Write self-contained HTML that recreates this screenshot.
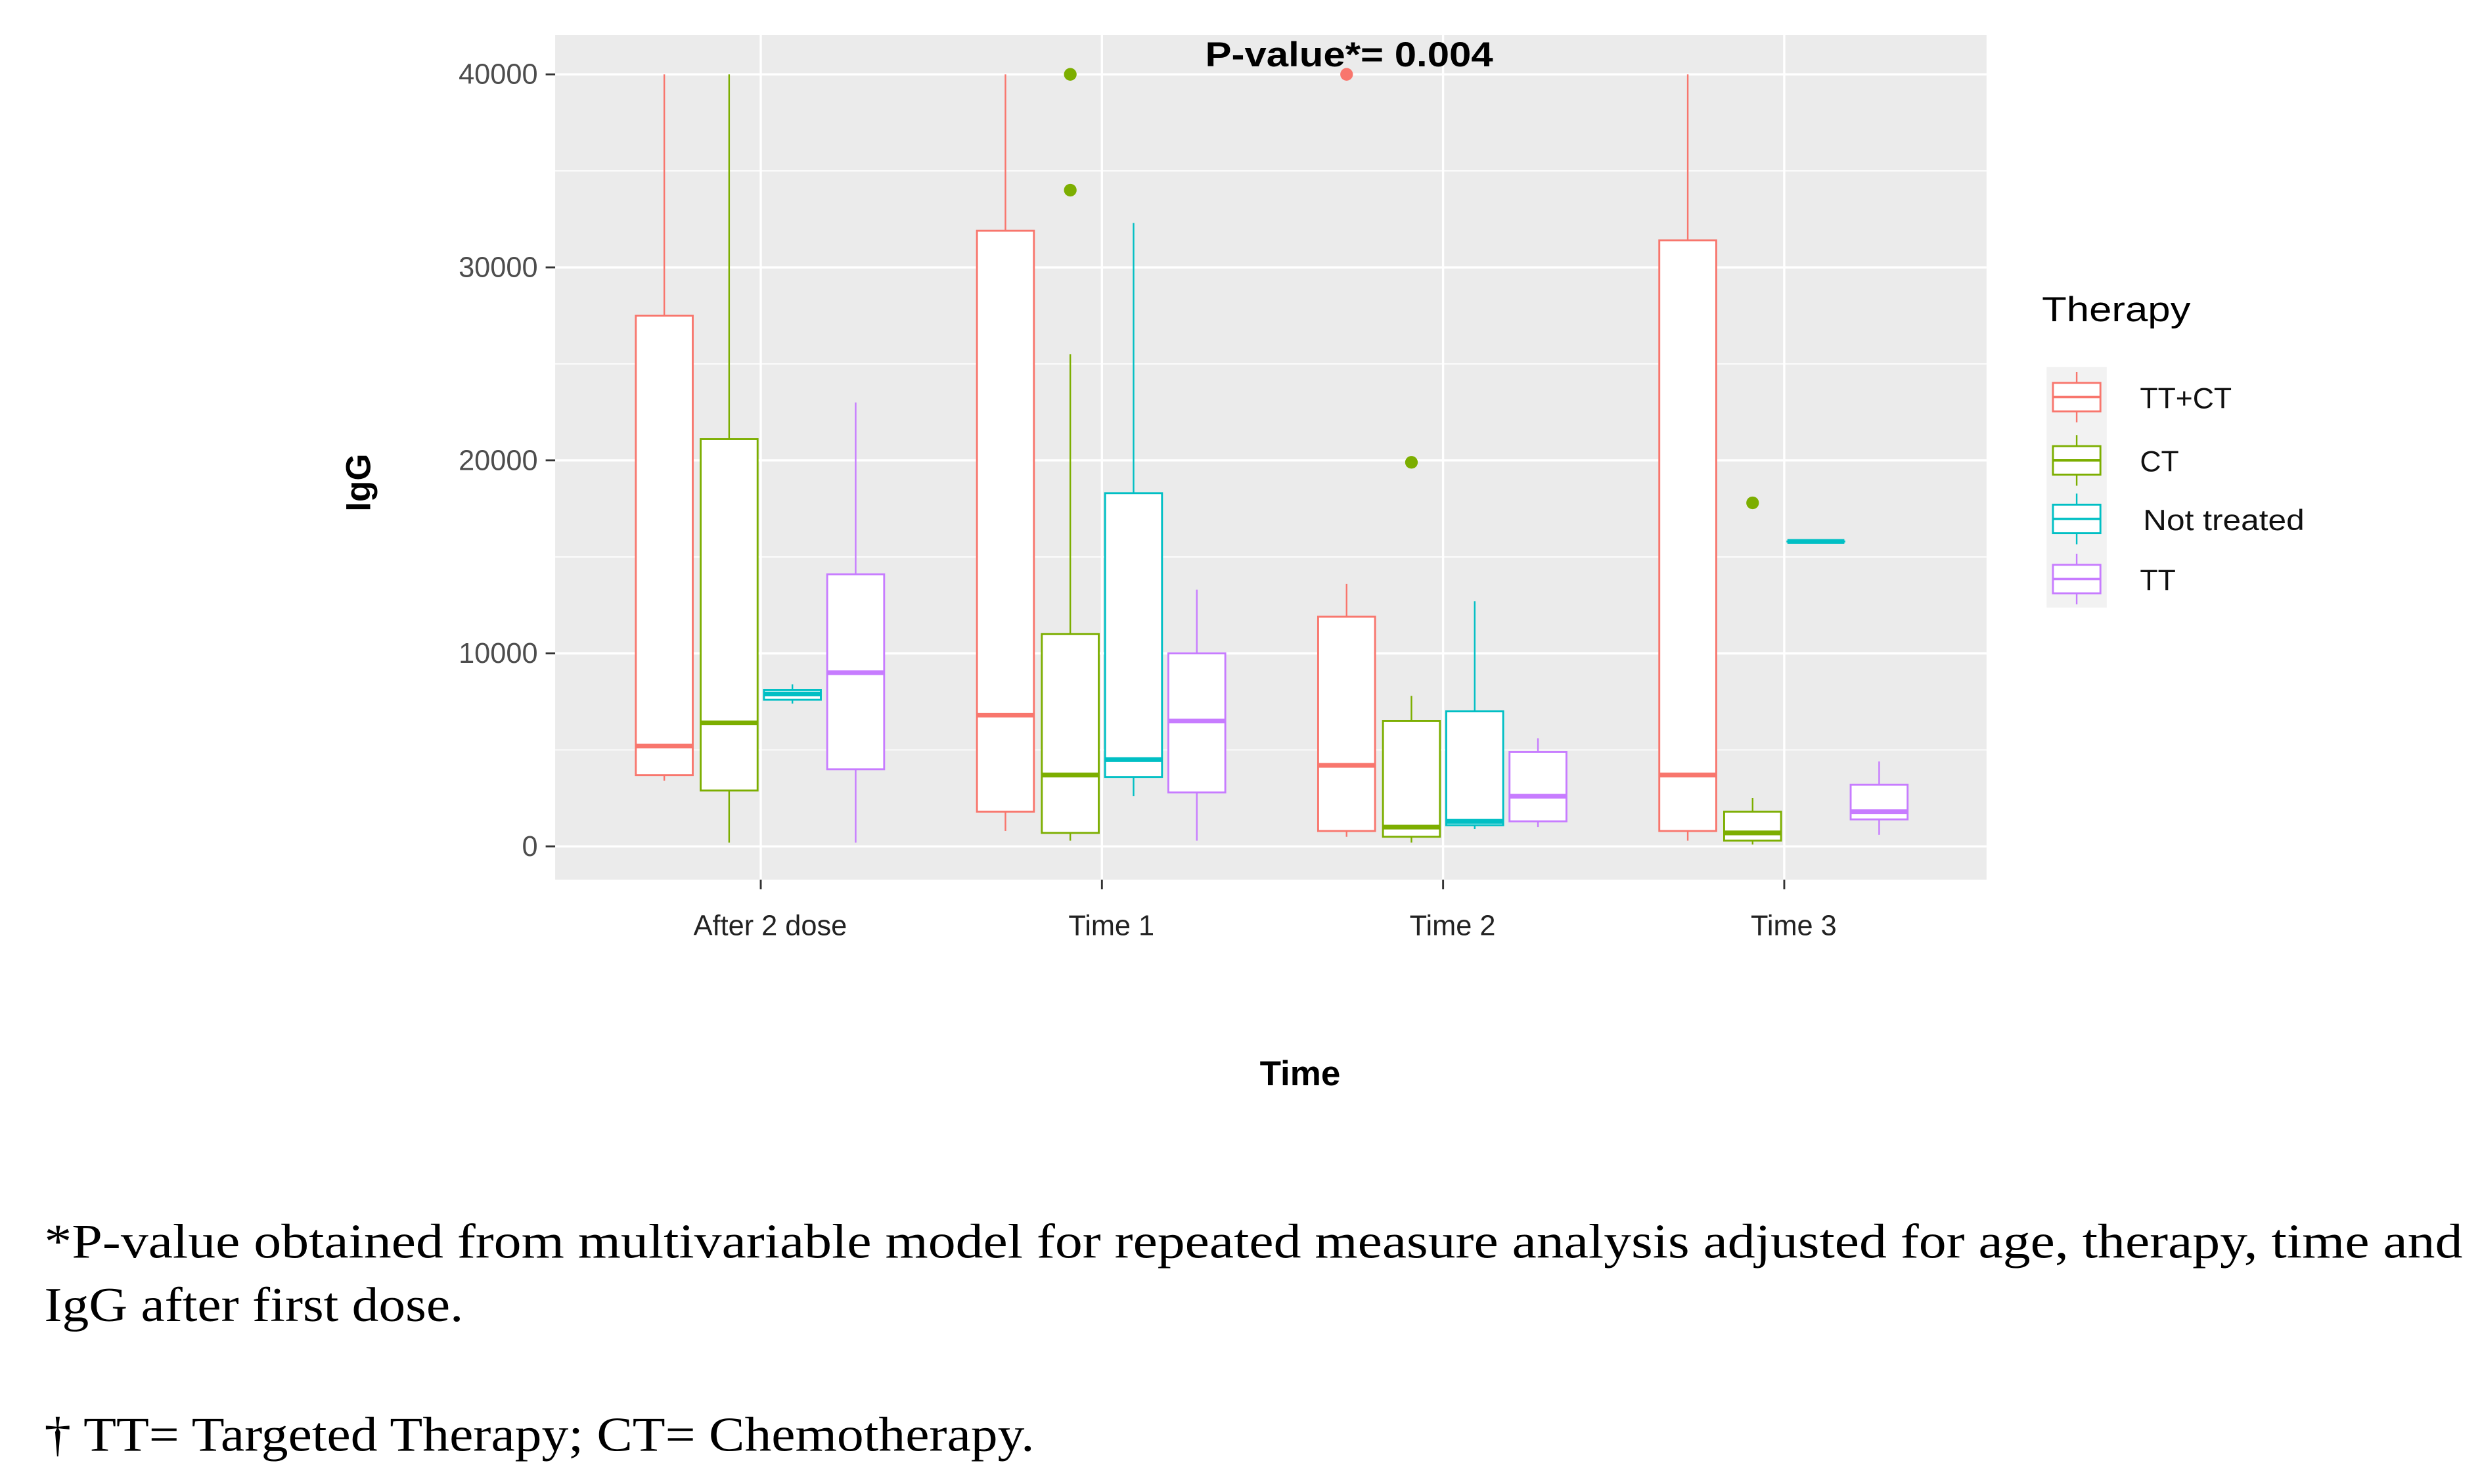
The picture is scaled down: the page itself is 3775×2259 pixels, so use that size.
<!DOCTYPE html>
<html><head><meta charset="utf-8"><style>
html,body{margin:0;padding:0;background:#fff;}
svg{display:block;}
</style></head><body>
<svg id="chart" width="3775" height="2259" viewBox="0 0 1568 938" preserveAspectRatio="none" xmlns="http://www.w3.org/2000/svg">
<rect x="351" y="22" width="905" height="534" fill="#EBEBEB"/>
<g id="grid"></g>
<g id="boxes"></g>
<g id="axes"></g>
<text x="853" y="42" text-anchor="middle" font-family="Liberation Sans, sans-serif" font-weight="bold" font-size="22" fill="#000" textLength="182" lengthAdjust="spacingAndGlyphs">P-value*= 0.004</text>
<text transform="translate(234,305) rotate(-90)" text-anchor="middle" font-family="Liberation Sans, sans-serif" font-weight="bold" font-size="22">IgG</text>
<text x="822" y="686" text-anchor="middle" font-family="Liberation Sans, sans-serif" font-weight="bold" font-size="22">Time</text>
<g id="legend">
<text x="1291" y="203" font-family="Liberation Sans, sans-serif" font-size="22" textLength="94" lengthAdjust="spacingAndGlyphs">Therapy</text>
<rect x="1294" y="232" width="38" height="152" fill="#F2F2F2"/>
</g>
<g font-family="Liberation Serif, serif" font-size="31" fill="#000">
<text x="28" y="795" textLength="1529" lengthAdjust="spacingAndGlyphs">*P-value obtained from multivariable model for repeated measure analysis adjusted for age, therapy, time and</text>
<text x="28" y="835" textLength="265" lengthAdjust="spacingAndGlyphs">IgG after first dose.</text>
<text x="28" y="917" textLength="626" lengthAdjust="spacingAndGlyphs">† TT= Targeted Therapy; CT= Chemotherapy.</text>
</g>
</svg>
<script>
const categories=["After 2 dose","Time 1","Time 2","Time 3"];
const groups=["TT+CT","CT","Not treated","TT"];
const colors=["#F8766D","#7CAE00","#00BFC4","#C77CFF"];
const yTicks=[0,10000,20000,30000,40000];
// [min, q1, median, q3, max] per category, per group
const ttct=[[3400,3700,5200,27500,40000],[800,1800,6800,31900,40000],[500,800,4200,11900,13600],[300,800,3700,31400,40000]];
const ct=[[200,2900,6400,21100,40000],[300,700,3700,11000,25500],[200,500,1000,6500,7800],[100,300,700,1800,2500]];
const nt=[[7400,7600,7900,8100,8400],[2600,3600,4500,18300,32300],[900,1100,1300,7000,12700],[15800,15800,15800,15800,15800]];
const tt=[[200,4000,9000,14100,23000],[300,2800,6500,10000,13300],[1000,1300,2600,4900,5600],[600,1400,1800,3200,4400]];
const outliers=[[1,1,34000],[1,1,40000],[2,0,40000],[2,1,19900],[3,1,17800]]; // [category, group, value]
const series=[ttct,ct,nt,tt];

const NS="http://www.w3.org/2000/svg";
const y=v=>535-v*(488/40000);
const x=i=>481+i*215.7;
const off=[-61,-20,20,60];
const bw=36;
function mk(tag,attrs,parent){const e=document.createElementNS(NS,tag);for(const k in attrs)e.setAttribute(k,attrs[k]);parent.appendChild(e);return e;}
const grid=document.getElementById('grid'),boxes=document.getElementById('boxes'),axes=document.getElementById('axes'),legend=document.getElementById('legend');
for(let v=-5000;v<=45000;v+=5000){const yy=y(v);if(yy<22||yy>556)continue;const major=v%10000===0;
 const l=mk('line',{x1:351,x2:1256,y1:yy,y2:yy,stroke:'#fff','stroke-width':major?1.4:0.7},grid);
 
 }
categories.forEach((c,i)=>{const l=mk('line',{x1:x(i),x2:x(i),y1:22,y2:556,stroke:'#fff','stroke-width':1.4},grid);
 
 
 const t=mk('line',{x1:x(i),x2:x(i),y1:556,y2:562,stroke:'#333','stroke-width':1.2},axes);
 
 
 const tx=mk('text',{x:x(i)+6,y:591,'text-anchor':'middle','font-family':'Liberation Sans, sans-serif','font-size':18,fill:'#222'},axes);
 tx.textContent=c;
 
 });
yTicks.forEach(v=>{const t=mk('line',{x1:345,x2:351,y1:y(v),y2:y(v),stroke:'#333','stroke-width':1.2},axes);
 
 
 const tx=mk('text',{x:340,y:y(v)+6,'text-anchor':'end','font-family':'Liberation Sans, sans-serif','font-size':18,fill:'#4d4d4d'},axes);
 tx.textContent=String(v);
 
 });
series.forEach((s,g)=>{s.forEach((d,i)=>{const cx=x(i)+off[g],col=colors[g];
 const grp=mk('g',{},boxes);
 
 
 mk('line',{x1:cx,x2:cx,y1:y(d[0]),y2:y(d[1]),stroke:col,'stroke-width':1},grp);
 mk('line',{x1:cx,x2:cx,y1:y(d[3]),y2:y(d[4]),stroke:col,'stroke-width':1},grp);
 mk('rect',{x:cx-bw/2,y:y(d[3]),width:bw,height:Math.max(y(d[1])-y(d[3]),0.01),fill:'#fff',stroke:col,'stroke-width':1.2},grp);
 mk('line',{x1:cx-bw/2,x2:cx+bw/2,y1:y(d[2]),y2:y(d[2]),stroke:col,'stroke-width':3},grp);});});
outliers.forEach(o=>{const c=mk('circle',{cx:x(o[0])+off[o[1]],cy:y(o[2]),r:4,fill:colors[o[1]]},boxes);
 
 });
const ly=[251,291,328,366];
groups.forEach((gname,g)=>{const cy=ly[g],col=colors[g];
 const e=mk('g',{},legend);
 
 
 mk('line',{x1:1313,x2:1313,y1:cy-16,y2:cy+16,stroke:col,'stroke-width':1},e);
 mk('rect',{x:1298,y:cy-9,width:30,height:18,fill:'#fff',stroke:col,'stroke-width':1.2},e);
 mk('line',{x1:1298,x2:1328,y1:cy,y2:cy,stroke:col,'stroke-width':1.5},e);
 const attrs={x:gname==='Not treated'?1355:1353,y:cy+7,'font-family':'Liberation Sans, sans-serif','font-size':18.5,fill:'#111'};
 if(gname==='Not treated'){attrs.textLength=102;attrs.lengthAdjust='spacingAndGlyphs';}
 const t=mk('text',attrs,e);
 t.textContent=gname;});
</script>
</body></html>
